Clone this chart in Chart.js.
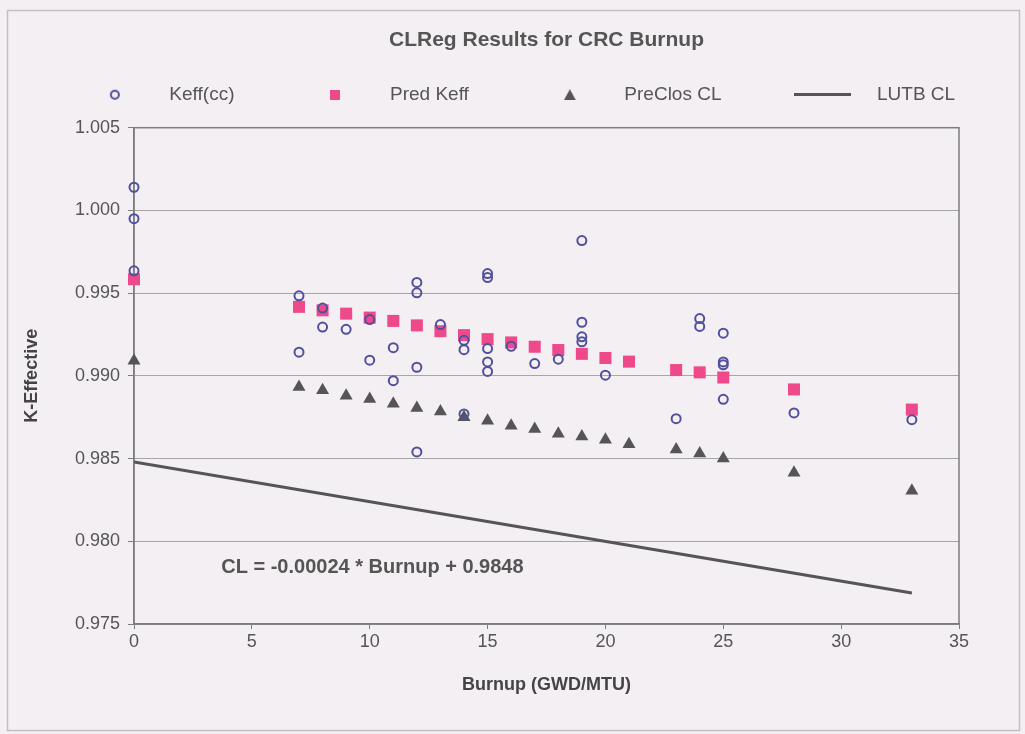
<!DOCTYPE html>
<html>
<head>
<meta charset="utf-8">
<script src="https://cdn.jsdelivr.net/npm/chart.js@4.4.1/dist/chart.umd.min.js"></script>
<style>
  html, body { margin: 0; padding: 0; background: #f4eff2; }
  #wrap { width: 1025px; height: 734px; }
</style>
</head>
<body>
<div id="wrap"><canvas id="crcChart" width="1025" height="734"></canvas></div>
<script>
// burnup (GWD/MTU) and k-effective values
const keffX = [0, 0, 0, 7, 7, 8, 8, 9, 10, 10, 11, 11, 12, 12, 12, 12, 13, 14, 14, 14,
  15, 15, 15, 15, 15, 16, 17, 18, 19, 19, 19, 19, 20, 23, 24, 24, 25, 25, 25, 25, 28, 33];
const keffY = [1.0014, 0.9995, 0.99635, 0.99484, 0.99143, 0.9941, 0.99295, 0.99281, 0.9934, 0.99095,
  0.9917, 0.98971, 0.99565, 0.99502, 0.99052, 0.9854, 0.9931, 0.99215, 0.99158, 0.9877,
  0.99618, 0.99594, 0.99165, 0.99084, 0.99027, 0.99179, 0.99074, 0.99101, 0.99818, 0.99324,
  0.99236, 0.99206, 0.99004, 0.98741, 0.99346, 0.99299, 0.99258, 0.99084, 0.99067, 0.98858,
  0.98776, 0.98735];

const predX = [0, 7, 8, 9, 10, 11, 12, 13, 14, 15, 16, 17, 18, 19, 20, 21, 23, 24, 25, 28, 33];
const predY = [0.99584, 0.99417, 0.99396, 0.99376, 0.99352, 0.99332, 0.99305, 0.9927, 0.99246, 0.99222,
  0.99202, 0.99176, 0.99156, 0.99133, 0.99108, 0.99086, 0.99035, 0.99021, 0.9899, 0.98918, 0.98796];

const preClosX = predX;
const preClosY = [0.99092, 0.98933, 0.98913, 0.9888, 0.9886, 0.98831, 0.98806, 0.98785, 0.9875, 0.98729,
  0.98699, 0.98678, 0.9865, 0.98633, 0.98613, 0.98587, 0.98555, 0.9853, 0.985, 0.98414, 0.98306];

const lutbX = [0, 33];
const lutbY = [0.9848, 0.97688];

const seriesNames = ["Keff(cc)", "Pred Keff", "PreClos CL", "LUTB CL"];
const xTicks = [0, 5, 10, 15, 20, 25, 30, 35];
const yTicks = [0.975, 0.980, 0.985, 0.990, 0.995, 1.000, 1.005];
const fitText = "CL = -0.00024 * Burnup + 0.9848";

const pts = (xs, ys) => xs.map((x, i) => ({ x: x, y: ys[i] }));

// small legend markers
function marker(w, h, draw) {
  const c = document.createElement("canvas");
  c.width = w; c.height = h;
  draw(c.getContext("2d"));
  return c;
}
const legendMarks = [
  marker(12, 12, g => { g.strokeStyle = "#50509c"; g.lineWidth = 2; g.beginPath(); g.arc(6, 6, 4, 0, Math.PI * 2); g.stroke(); }),
  marker(10, 10, g => { g.fillStyle = "#ee4a8b"; g.fillRect(0, 0, 10, 10); }),
  marker(12, 11, g => { g.fillStyle = "#555"; g.beginPath(); g.moveTo(6, 0); g.lineTo(12, 11); g.lineTo(0, 11); g.closePath(); g.fill(); }),
  marker(57, 3, g => { g.fillStyle = "#555"; g.fillRect(0, 0, 57, 3); })
];

const framePlugin = {
  id: "frame",
  beforeDraw(chart) {
    const c = chart.ctx;
    c.save();
    c.fillStyle = "#f4eff2";
    c.fillRect(0, 0, chart.width, chart.height);
    c.strokeStyle = "#c4bfc2";
    c.lineWidth = 1.5;
    c.strokeRect(7.5, 10.5, 1012, 720);
    c.restore();
  },
  beforeDatasetsDraw(chart) {
    const a = chart.chartArea, c = chart.ctx;
    c.save();
    c.strokeStyle = "#7d7d7d";
    c.lineWidth = 1.5;
    c.strokeRect(a.left, a.top, a.right - a.left, a.bottom - a.top);
    c.restore();
  },
  afterDatasetsDraw(chart) {
    const c = chart.ctx;
    c.save();
    c.font = "bold 20px 'Liberation Sans', Arial, sans-serif";
    c.fillStyle = "#555";
    c.textBaseline = "middle";
    c.fillText(fitText, chart.scales.x.getPixelForValue(3.7), chart.scales.y.getPixelForValue(0.9784));
    c.restore();
  }
};

Chart.defaults.font.family = "'Liberation Sans', Arial, sans-serif";
Chart.defaults.color = "#555";

const ctx = document.getElementById("crcChart").getContext("2d");
const myChart = new Chart(ctx, {
  type: "scatter",
  data: {
    datasets: [
      {
        label: seriesNames[0],
        data: pts(keffX, keffY),
        clip: false,
        pointStyle: "circle",
        pointRadius: 4.5,
        borderWidth: 2,
        borderColor: "#50509c",
        backgroundColor: "rgba(0,0,0,0)",
      },
      {
        label: seriesNames[1],
        data: pts(predX, predY),
        clip: false,
        pointStyle: "rect",
        pointRadius: 8.5,
        borderWidth: 0,
        backgroundColor: "#ee4a8b",
        borderColor: "#ee4a8b",
      },
      {
        label: seriesNames[2],
        data: pts(preClosX, preClosY),
        clip: false,
        pointStyle: "triangle",
        pointRadius: 7.5,
        borderWidth: 0,
        backgroundColor: "#555",
        borderColor: "#555",
      },
      {
        label: seriesNames[3],
        data: pts(lutbX, lutbY),
        showLine: true,
        pointRadius: 0,
        borderWidth: 3,
        borderColor: "#555",
        backgroundColor: "#555",
      },
    ],
  },
  options: {
    responsive: false,
    animation: false,
    events: [],
    layout: { padding: 0 },
    scales: {
      x: {
        type: "linear",
        min: 0,
        max: 35,
        afterFit: s => { s.height = 110; },
        afterBuildTicks: s => { s.ticks = xTicks.map(v => ({ value: v })); },
        grid: { drawOnChartArea: false, color: "#7d7d7d", tickLength: 5 },
        border: { color: "#7d7d7d", width: 1.5 },
        ticks: { padding: 2, font: { size: 18 }, color: "#555" },
        title: {
          display: true,
          text: "Burnup (GWD/MTU)",
          font: { size: 18, weight: "bold" },
          color: "#444",
          padding: { top: 0, bottom: 38 },
        },
      },
      y: {
        type: "linear",
        min: 0.975,
        max: 1.005,
        afterFit: s => { s.width = 134; },
        afterBuildTicks: s => { s.ticks = yTicks.map(v => ({ value: v })); },
        grid: { color: "#a6a6a6", lineWidth: 1, tickLength: 6, tickColor: "#7d7d7d" },
        border: { color: "#7d7d7d", width: 1.5 },
        ticks: { padding: 8, font: { size: 18 }, color: "#555", callback: v => v.toFixed(3) },
        title: {
          display: true,
          text: "K-Effective",
          font: { size: 18, weight: "bold" },
          color: "#444",
          padding: { top: 21, bottom: 0 },
        },
      },
      y2: {
        position: "right",
        display: true,
        afterFit: s => { s.width = 66; },
        grid: { display: false },
        border: { display: false },
        ticks: { display: false },
      },
    },
    plugins: {
      tooltip: { enabled: false },
      title: {
        display: true,
        text: "CLReg Results for CRC Burnup",
        fullSize: false,
        font: { size: 21, weight: "bold" },
        color: "#555",
        padding: { top: 28, bottom: -24 },
      },
      legend: {
        display: true,
        position: "top",
        weight: 1000,
        labels: {
          usePointStyle: true,
          pointStyleWidth: 90,
          boxHeight: 7,
          padding: 56,
          font: { size: 19 },
          color: "#555",
          generateLabels: chart => {
            const items = Chart.defaults.plugins.legend.labels.generateLabels(chart);
            items.forEach((it, i) => { it.pointStyle = legendMarks[i]; });
            return items;
          },
        },
      },
      subtitle: {
        display: true,
        text: "",
        weight: 500,
        font: { size: 1 },
        padding: { top: 0, bottom: 12.3 },
      },
    },
  },
  plugins: [framePlugin],
});
</script>
</body>
</html>
